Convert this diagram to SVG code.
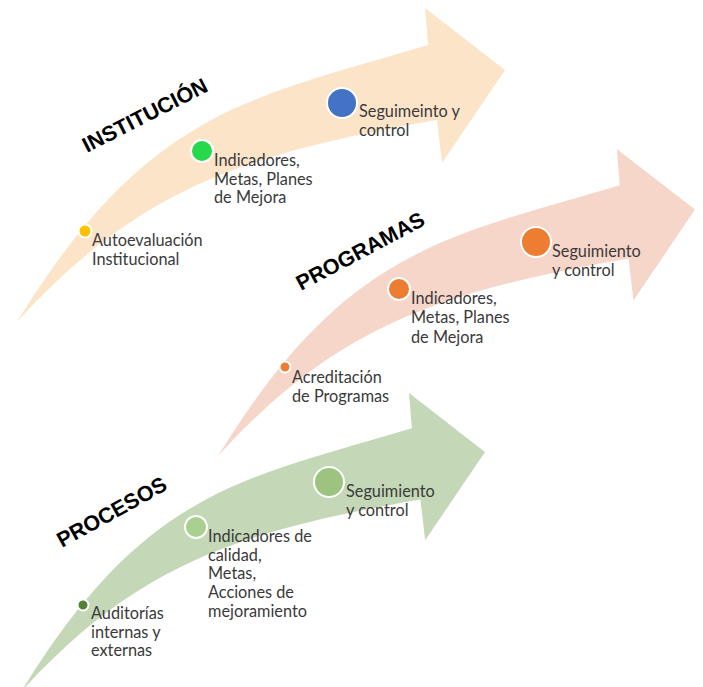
<svg xmlns="http://www.w3.org/2000/svg" xmlns:xlink="http://www.w3.org/1999/xlink" width="703" height="687" viewBox="0 0 703 687">
  <style>
    .lbl { font-family: Lato, "Liberation Sans", sans-serif; font-size: 16.3px; fill: #3A3A3A; }
    .ttl { font-family: "Liberation Sans", Arial, sans-serif; font-size: 21.5px; font-weight: bold; fill: #000000; }
    .dot { stroke: #ffffff; stroke-width: 2; }
  </style>
  <defs>
    <path id="arrow" d="M17,322 C147,110 248,99 428,45 L425,8 L505,70 L442,163 L437,120 C242,154 137,190 17,322 Z"/>
  </defs>
  <rect width="703" height="687" fill="#ffffff"/>
  <g id="connectors">
    <use xlink:href="#arrow" href="#arrow" fill="#FCE4C9"/>
    <use xlink:href="#arrow" href="#arrow" fill="#F7D6CA" transform="translate(201.6,141.2) scale(0.977)"/>
    <use xlink:href="#arrow" href="#arrow" fill="#C4D8B7" transform="translate(5.25,385.4) scale(0.95)"/>
  </g>

  <g id="institucion">
    <text class="ttl" transform="translate(87,153) rotate(-27)">INSTITUCIÓN</text>
    <g id="inst-autoevaluacion">
      <circle class="dot" cx="85" cy="231" r="6.5" fill="#FFC000"/>
      <text class="lbl" x="92" y="246"><tspan x="92">Autoevaluación</tspan><tspan x="92" dy="18.5">Institucional</tspan></text>
    </g>
    <g id="inst-indicadores">
      <circle class="dot" cx="202" cy="151" r="11" fill="#26D84C"/>
      <text class="lbl" x="214" y="166"><tspan x="214">Indicadores,</tspan><tspan x="214" dy="18.5">Metas, Planes</tspan><tspan x="214" dy="18.5">de Mejora</tspan></text>
    </g>
    <g id="inst-seguimiento">
      <circle class="dot" cx="342" cy="103" r="15" fill="#4472C4"/>
      <text class="lbl" x="359" y="117"><tspan x="359">Seguimeinto y</tspan><tspan x="359" dy="18.5">control</tspan></text>
    </g>
  </g>

  <g id="programas">
    <text class="ttl" transform="translate(301,291) rotate(-28)">PROGRAMAS</text>
    <g id="prog-acreditacion">
      <circle class="dot" cx="285" cy="367" r="5.5" fill="#ED7D31"/>
      <text class="lbl" x="292" y="383"><tspan x="292">Acreditación</tspan><tspan x="292" dy="19.3">de Programas</tspan></text>
    </g>
    <g id="prog-indicadores">
      <circle class="dot" cx="399" cy="289" r="11" fill="#ED7D31"/>
      <text class="lbl" x="411" y="304"><tspan x="411">Indicadores,</tspan><tspan x="411" dy="19.3">Metas, Planes</tspan><tspan x="411" dy="19.3">de Mejora</tspan></text>
    </g>
    <g id="prog-seguimiento">
      <circle class="dot" cx="536" cy="242" r="15" fill="#ED7D31"/>
      <text class="lbl" x="552" y="257"><tspan x="552">Seguimiento</tspan><tspan x="552" dy="19.3">y control</tspan></text>
    </g>
  </g>

  <g id="procesos">
    <text class="ttl" transform="translate(62,548) rotate(-29)">PROCESOS</text>
    <g id="proc-auditorias">
      <circle class="dot" cx="83" cy="605" r="5.5" fill="#548235"/>
      <text class="lbl" x="91" y="619"><tspan x="91">Auditorías</tspan><tspan x="91" dy="18.7">internas y</tspan><tspan x="91" dy="18.7">externas</tspan></text>
    </g>
    <g id="proc-indicadores">
      <circle class="dot" cx="196" cy="527" r="11" fill="#A9D08E"/>
      <text class="lbl" x="208" y="542"><tspan x="208">Indicadores de</tspan><tspan x="208" dy="18.7">calidad,</tspan><tspan x="208" dy="18.7">Metas,</tspan><tspan x="208" dy="18.7">Acciones de</tspan><tspan x="208" dy="18.7">mejoramiento</tspan></text>
    </g>
    <g id="proc-seguimiento">
      <circle class="dot" cx="329" cy="482" r="15" fill="#9DC381"/>
      <text class="lbl" x="346" y="497"><tspan x="346">Seguimiento</tspan><tspan x="346" dy="18.7">y control</tspan></text>
    </g>
  </g>
</svg>
